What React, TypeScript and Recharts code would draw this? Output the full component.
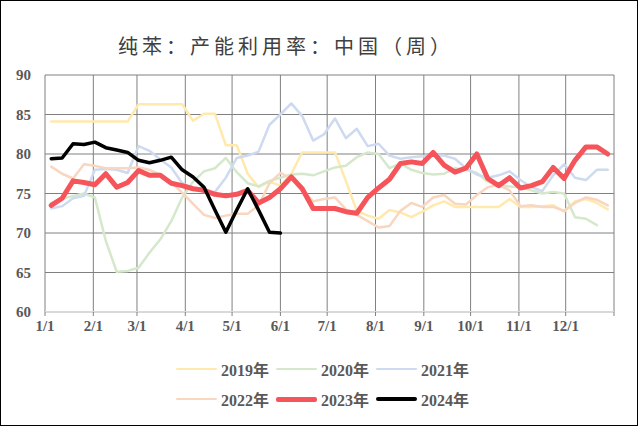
import React from "react";
import { LineChart, Line, XAxis, YAxis, CartesianGrid } from "recharts";

// week index -> day of year (weekly readings)
const weeks = Array.from({ length: 52 }, (_, i) => i);

const monthTicks = [0, 31, 59, 90, 120, 151, 181, 212, 243, 273, 304, 334, 365];
const monthLabels = ["1/1", "2/1", "3/1", "4/1", "5/1", "6/1", "7/1", "8/1", "9/1", "10/1", "11/1", "12/1", ""];
const yTicks = [60, 65, 70, 75, 80, 85, 90];

const y2019 = [
  84.1, 84.1, 84.1, 84.1, 84.1, 84.1, 84.1, 84.1, 86.3, 86.3, 86.3, 86.3, 86.3,
  84.2, 85.1, 85.1, 81.1, 81.1, 77.5, 75.8, 76.5, 76.0, 77.5, 80.2, 80.2, 80.2,
  80.2, 76.6, 72.8, 72.2, 71.8, 72.9, 72.6, 72.0, 72.7, 73.5, 74.0, 73.3, 73.3,
  73.3, 73.3, 73.3, 74.3, 73.3, 73.3, 73.4, 73.5, 72.7, 74.0, 74.3, 73.8, 73.0,
];
const y2020 = [
  73.8, 74.3, 74.7, 75.0, 74.5, 69.0, 65.1, 65.2, 65.6, 67.5, 69.2, 71.5, 74.5,
  76.5, 77.8, 78.2, 79.5, 77.7, 76.3, 75.9, 76.6, 77.0, 77.4, 77.5, 77.3, 77.8,
  78.3, 78.5, 79.6, 80.2, 80.0, 78.2, 78.8, 78.0, 77.6, 77.4, 77.5, 78.2, 78.0,
  77.6, 76.5, 76.0, 75.9, 75.8, 75.4, 75.0, 75.2, 75.0, 72.0, 71.8, 71.0, null,
];
const y2021 = [
  73.1, 73.4, 74.4, 74.7, 78.0, 78.1, 78.0, 77.6, 81.0, 80.4, 79.3, 78.3, 76.3,
  75.6, 75.2, 75.2, 77.0, 79.5, 79.8, 80.3, 83.7, 85.0, 86.4, 84.8, 81.7, 82.5,
  84.5, 82.0, 83.2, 81.0, 81.3, 79.8, 79.4, 79.6, 79.7, 79.8, 79.8, 79.4, 78.2,
  77.4, 77.0, 77.3, 77.8, 76.7, 75.8, 75.3, 77.3, 78.7, 77.0, 76.7, 78.0, 78.0,
];
const y2022 = [
  78.4, 77.5, 76.9, 78.7, 78.5, 78.2, 78.2, 78.2, 78.3, 78.0, 77.4, 76.4, 75.1,
  73.7, 72.3, 71.9, 72.2, 72.45, 72.45, 73.5, 76.3, 77.6, 76.9, 75.5, 74.0, 74.3,
  74.5, 73.0, 72.3, 71.5, 70.7, 70.9, 72.8, 73.8, 73.3, 74.5, 74.8, 73.7, 73.6,
  74.8, 75.8, 76.1, 75.4, 73.4, 73.5, 73.3, 73.3, 72.8, 73.8, 74.5, 74.2, 73.5,
];
const y2023 = [
  73.5, 74.4, 76.6, 76.4, 76.1, 77.5, 75.8, 76.4, 77.9, 77.3, 77.3, 76.3, 76.0,
  75.6, 75.4, 74.9, 74.7, 74.9, 75.4, 73.8, 74.5, 75.6, 77.1, 75.6, 73.1, 73.1,
  73.1, 72.7, 72.5, 74.5, 75.7, 76.8, 78.8, 79.0, 78.8, 80.2, 78.6, 77.7, 78.2,
  80.0, 76.9, 76.0, 77.0, 75.7, 76.0, 76.5, 78.3, 76.9, 79.2, 80.9, 80.9, 80.0,
];
const y2024 = [
  79.4, 79.5, 81.3, 81.2, 81.5, 80.8, 80.5, 80.2, 79.2, 78.9, 79.2, 79.6, 78.0,
  77.1, 75.8, 72.9, 70.1, 72.9, 75.6, 72.9, 70.1, 70.0,
];

const series = [
  { key: "y2019", name: "2019年", color: "#FFE9AD", width: 2.5 },
  { key: "y2020", name: "2020年", color: "#D6E8CB", width: 2.5 },
  { key: "y2021", name: "2021年", color: "#CEDAF0", width: 2.5 },
  { key: "y2022", name: "2022年", color: "#F8D6C0", width: 2.5 },
  { key: "y2023", name: "2023年", color: "#F4545A", width: 5 },
  { key: "y2024", name: "2024年", color: "#000000", width: 3.5 },
];

const data = weeks.map((i) => ({
  day: 4 + i * 7,
  y2019: y2019[i] ?? null,
  y2020: y2020[i] ?? null,
  y2021: y2021[i] ?? null,
  y2022: y2022[i] ?? null,
  y2023: y2023[i] ?? null,
  y2024: y2024[i] ?? null,
}));

const tickStyle = {
  fontFamily: "'Liberation Serif', serif",
  fontSize: 15,
  fontWeight: 700,
  fill: "#595959",
};

function LegendBox() {
  const rows = [series.slice(0, 3), series.slice(3)];
  return (
    <div style={{ position: "absolute", left: 175, top: 353, width: 320 }}>
      {rows.map((row, r) => (
        <div key={r} style={{ display: "flex", height: 30, alignItems: "center" }}>
          {row.map((s) => (
            <div key={s.key} style={{ display: "flex", alignItems: "center", width: 100 }}>
              <div
                style={{
                  width: 41,
                  height: s.width,
                  background: s.color,
                  borderRadius: 2,
                  marginRight: 4,
                }}
              />
              <span
                style={{
                  fontFamily: "'Liberation Serif', 'Noto Sans CJK SC', serif",
                  fontSize: 16,
                  fontWeight: 700,
                  color: "#595959",
                }}
              >
                {s.name}
              </span>
            </div>
          ))}
        </div>
      ))}
    </div>
  );
}

export default function App() {
  return (
    <div
      style={{
        position: "absolute",
        left: 0,
        top: 0,
        width: 638,
        height: 426,
        border: "1px solid #000",
        boxSizing: "border-box",
        background: "#fff",
        overflow: "hidden",
      }}
    >
      <div
        style={{
          position: "absolute",
          left: 0,
          top: 32,
          width: 570,
          textAlign: "center",
          fontFamily: "'Noto Sans CJK SC', sans-serif",
          fontSize: 20,
          letterSpacing: 4,
          color: "#404040",
          lineHeight: "26px",
        }}
      >
        纯苯：产能利用率：中国（周）
      </div>
      <div style={{ position: "absolute", left: -1, top: -1 }}>
        <LineChart
          width={638}
          height={426}
          data={data}
          margin={{ top: 75, right: 24, bottom: 84, left: 0 }}
        >
          <CartesianGrid stroke="#808080" strokeWidth={1} />
          <XAxis
            type="number"
            dataKey="day"
            domain={[0, 365]}
            ticks={monthTicks}
            tickFormatter={(v: number) => monthLabels[monthTicks.indexOf(v)] ?? ""}
            interval={0}
            height={30}
            stroke="#D9D9D9"
            strokeWidth={2}
            tickLine={{ stroke: "#808080", strokeWidth: 1 }}
            tickSize={4}
            tickMargin={4}
            tick={tickStyle}
          />
          <YAxis
            type="number"
            domain={[60, 90]}
            ticks={yTicks}
            interval={0}
            width={45}
            axisLine={false}
            tickLine={false}
            tickSize={0}
            tickMargin={14}
            tick={tickStyle}
          />
          {series.map((s) => (
            <Line
              key={s.key}
              type="linear"
              dataKey={s.key}
              name={s.name}
              stroke={s.color}
              strokeWidth={s.width}
              strokeLinejoin="round"
              strokeLinecap="round"
              dot={false}
              activeDot={false}
              connectNulls={false}
              isAnimationActive={false}
            />
          ))}
        </LineChart>
      </div>
      <LegendBox />
    </div>
  );
}
